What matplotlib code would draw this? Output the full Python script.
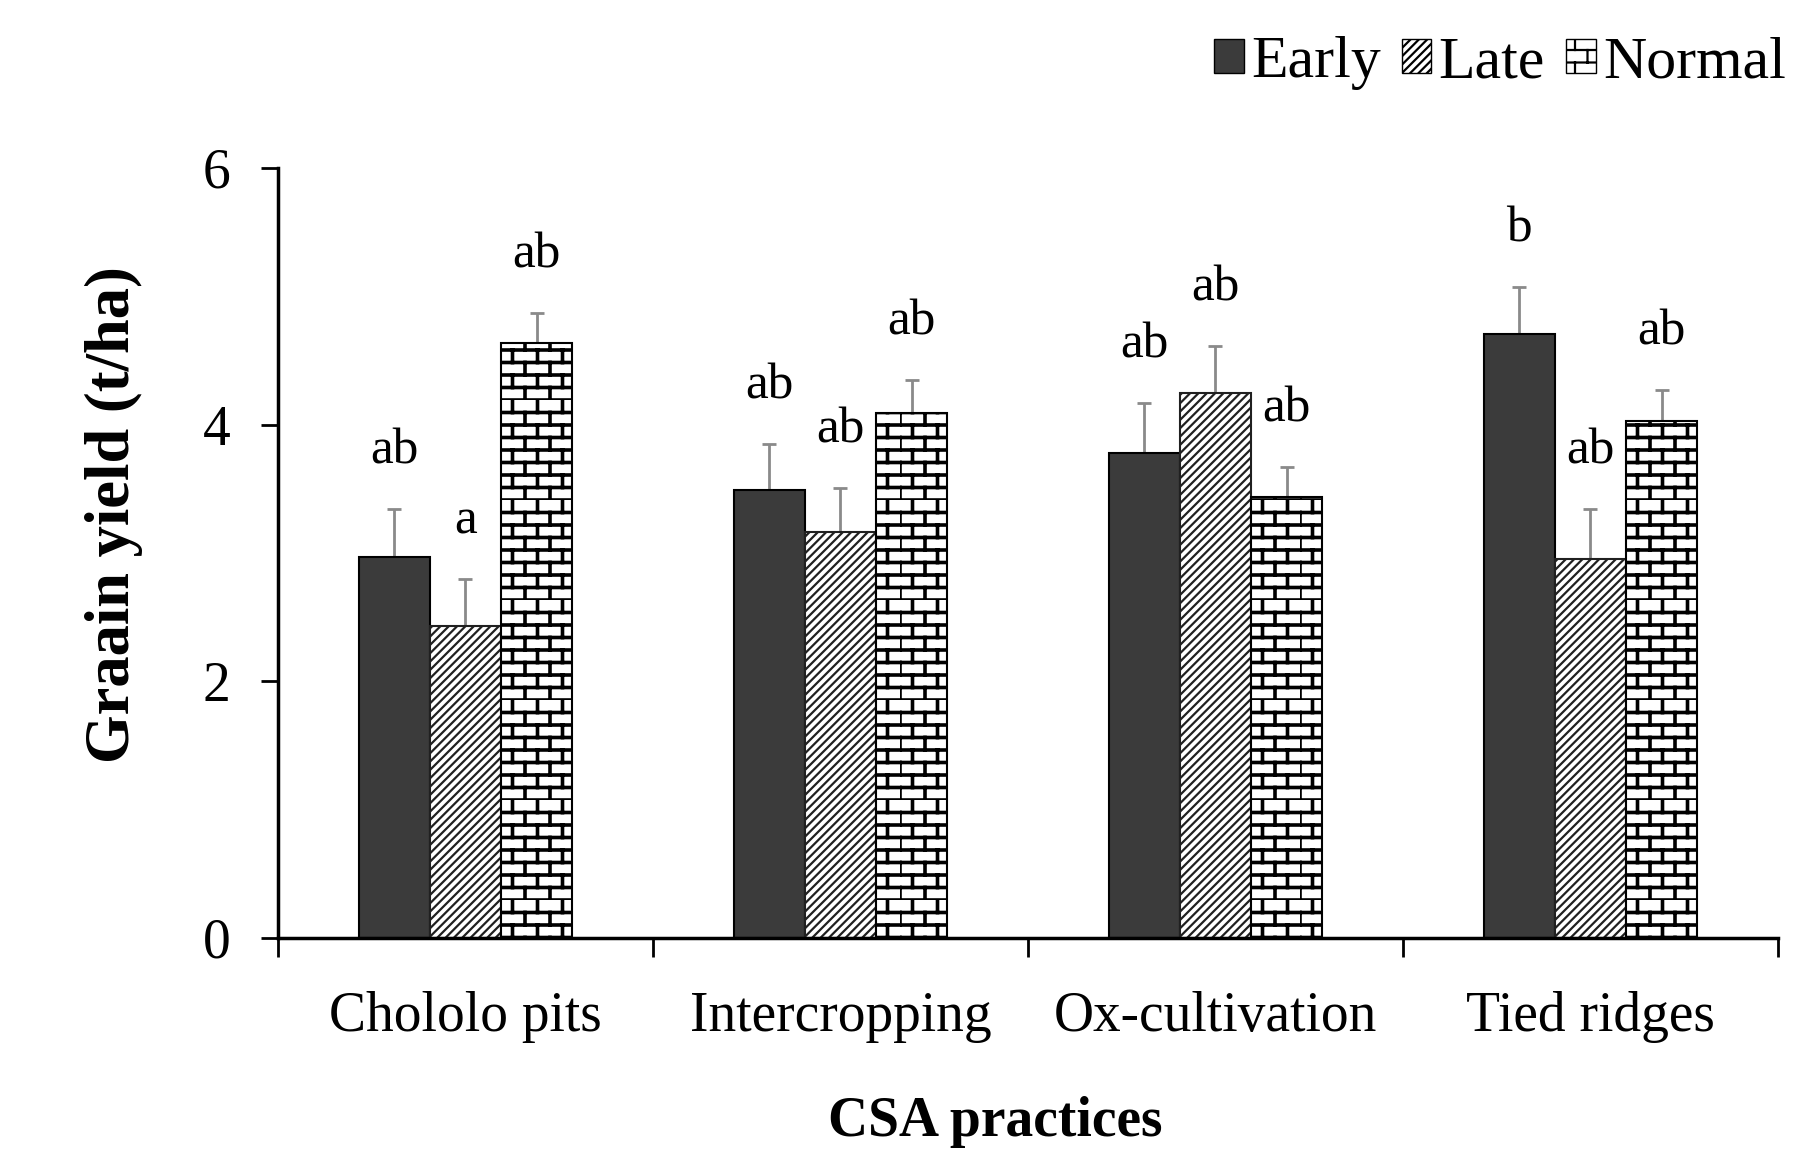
import numpy as np
import matplotlib.pyplot as plt
import matplotlib.hatch as mhatch
from matplotlib.path import Path
from matplotlib.patches import Patch

# Datos
practicas = ["Chololo pits", "Intercropping", "Ox-cultivation", "Tied ridges"]
siembras = ["Early", "Late", "Normal"]

early = [2.97, 3.49, 3.78, 4.71]
late = [2.43, 3.16, 4.25, 2.95]
normal = [4.64, 4.09, 3.44, 4.03]

err_early = [0.37, 0.36, 0.39, 0.36]
err_late = [0.37, 0.35, 0.36, 0.39]
err_normal = [0.23, 0.26, 0.23, 0.24]

letras_early = ["ab", "ab", "ab", "b"]
letras_late = ["a", "ab", "ab", "ab"]
letras_normal = ["ab", "ab", "ab", "ab"]


# Patron de ladrillos (reemplaza el rayado horizontal '-')
class BrickHatch(mhatch.HatchPatternBase):
    def __init__(self, hatch, density):
        n = hatch.count('-') * 8
        self.rows = n
        self.bricks = 4
        self.num_vertices = n * 2 + n * self.bricks * 2

    def set_vertices_and_codes(self, vertices, codes):
        k = 0
        n = self.rows
        m = self.bricks
        for i in range(n):
            y = i / n
            vertices[k] = (0.0, y)
            vertices[k + 1] = (1.0, y)
            codes[k] = Path.MOVETO
            codes[k + 1] = Path.LINETO
            k += 2
            for j in range(m):
                x = (j + 0.5 * (i % 2)) / m
                vertices[k] = (x, y)
                vertices[k + 1] = (x, y + 1.0 / n)
                codes[k] = Path.MOVETO
                codes[k + 1] = Path.LINETO
                k += 2


mhatch._hatch_types = [BrickHatch if t is mhatch.HorizontalHatch else t
                       for t in mhatch._hatch_types]

plt.rcParams['font.family'] = ['Liberation Serif', 'DejaVu Serif']
plt.rcParams['hatch.linewidth'] = 1.6

fig = plt.figure(figsize=(17.93, 11.53), dpi=100)
ax = fig.add_axes([0.155, 0.1865, 0.8366, 0.6678])

x = np.arange(len(practicas))
w = 0.19

series = [
    (early, err_early, letras_early, -w, dict(color="#3b3b3b", edgecolor="black")),
    (late, err_late, letras_late, 0.0, dict(color="white", edgecolor="#202020", hatch="////")),
    (normal, err_normal, letras_normal, w, dict(color="white", edgecolor="black", hatch="-")),
]

for vals, errs, letras, off, estilo in series:
    barras = ax.bar(x + off, vals, w, linewidth=1.5, zorder=2, **estilo)
    if estilo.get("hatch") == "-":
        for b in barras:
            if hasattr(b, "set_hatch_linewidth"):
                b.set_hatch_linewidth(2.6)
    ax.errorbar(x + off, vals, yerr=errs, fmt="none", ecolor="#8a8a8a",
                elinewidth=2, capsize=5, capthick=2, zorder=1)
    for xi, v, e, t in zip(x + off, vals, errs, letras):
        ax.text(xi, v + e + 0.45, t, ha="center", va="center", fontsize=37)

ax.set_xlim(-0.5, 3.5)
ax.set_ylim(0, 6)
ax.set_yticks([0, 2, 4, 6])
ax.set_xticks(x)
ax.set_xticklabels(practicas)
ax.set_xticks(np.arange(-0.5, 4.0, 1.0), minor=True)
ax.tick_params(axis="x", which="major", length=0, pad=38, labelsize=40)
ax.tick_params(axis="x", which="minor", length=14, width=2, direction="out")
ax.tick_params(axis="y", length=12, width=2, pad=22, labelsize=40)

ax.spines["top"].set_visible(False)
ax.spines["right"].set_visible(False)
ax.spines["left"].set_linewidth(2.5)
ax.spines["bottom"].set_linewidth(2.5)

ax.set_ylabel("Graain yield (t/ha)", fontsize=45, fontweight="bold")
ax.set_xlabel("CSA practices", fontsize=40, fontweight="bold")
ax.yaxis.set_label_coords(-0.09, 0.55)
ax.xaxis.set_label_coords(0.478, -0.205)

handles = [Patch(facecolor=s[4]["color"], edgecolor="black", hatch=s[4].get("hatch"))
           for s in series]
fig.legend(handles, siembras, loc="center right", bbox_to_anchor=(0.996, 0.945),
           ncol=3, frameon=False, fontsize=43, handlelength=0.5, handleheight=0.5,
           handletextpad=0.12, columnspacing=0.35, borderpad=0, borderaxespad=0)

fig.savefig("out.png", dpi=100)
